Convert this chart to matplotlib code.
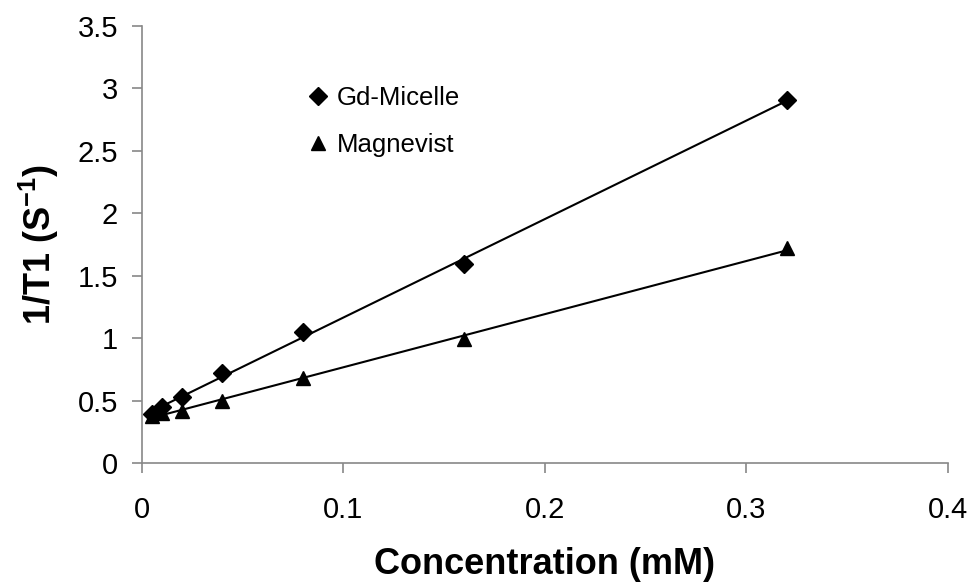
import numpy as np
import matplotlib
matplotlib.use("Agg")
import matplotlib.pyplot as plt

plt.rcParams['font.family'] = ['Liberation Sans', 'DejaVu Sans']
plt.rcParams['mathtext.fontset'] = 'custom'
plt.rcParams['mathtext.rm'] = 'Liberation Sans'
plt.rcParams['mathtext.bf'] = 'Liberation Sans:bold'

conc = [0.005, 0.01, 0.02, 0.04, 0.08, 0.16, 0.32]
gd_micelle = [0.39, 0.45, 0.53, 0.72, 1.05, 1.59, 2.91]
magnevist = [0.38, 0.40, 0.42, 0.50, 0.68, 0.99, 1.72]
x_ticks = [0, 0.1, 0.2, 0.3, 0.4]
y_ticks = [0, 0.5, 1, 1.5, 2, 2.5, 3, 3.5]
x_ticklabels = ['0', '0.1', '0.2', '0.3', '0.4']
y_ticklabels = ['0', '0.5', '1', '1.5', '2', '2.5', '3', '3.5']

fig = plt.figure(figsize=(9.71, 5.87), dpi=100)
ax = fig.add_axes([0.146, 0.2112, 0.830, 0.7445])

xs = np.array(conc)
for ys, mk, ms, lab in [(gd_micelle, 'D', 9.5, 'Gd-Micelle'), (magnevist, '^', 10, 'Magnevist')]:
    p = np.polyfit(xs, ys, 1)
    xl = np.array([xs.min(), xs.max()])
    ax.plot(xl, np.polyval(p, xl), color='black', lw=1.5, zorder=2)
    ax.plot(xs, ys, linestyle='none', marker=mk, ms=ms, color='black', label=lab, zorder=3)

ax.set_xlim(0, 0.4)
ax.set_ylim(0, 3.5)
ax.set_xticks(x_ticks)
ax.set_xticklabels(x_ticklabels)
ax.set_yticks(y_ticks)
ax.set_yticklabels(y_ticklabels)
for s in ['top', 'right']:
    ax.spines[s].set_visible(False)
for s in ['left', 'bottom']:
    ax.spines[s].set_color('#888888')
    ax.spines[s].set_linewidth(1.2)
ax.tick_params(axis='both', colors='#888888', labelcolor='black', labelsize=21, length=7, width=1.2, direction='out')
ax.tick_params(axis='x', pad=17)
ax.tick_params(axis='y', pad=10)

ax.set_xlabel('Concentration (mM)', fontsize=26, fontweight='bold', labelpad=16)
ax.set_ylabel(r'1/T1 (S$^{\mathbf{-1}}$)', fontsize=26, fontweight='bold', labelpad=12)

leg = ax.legend(loc='upper left', bbox_to_anchor=(0.181, 0.915), frameon=False, fontsize=18.5,
                handlelength=0.6, handletextpad=0.4, labelspacing=0.9, markerscale=1.0)

fig.savefig('out.png', dpi=100)
